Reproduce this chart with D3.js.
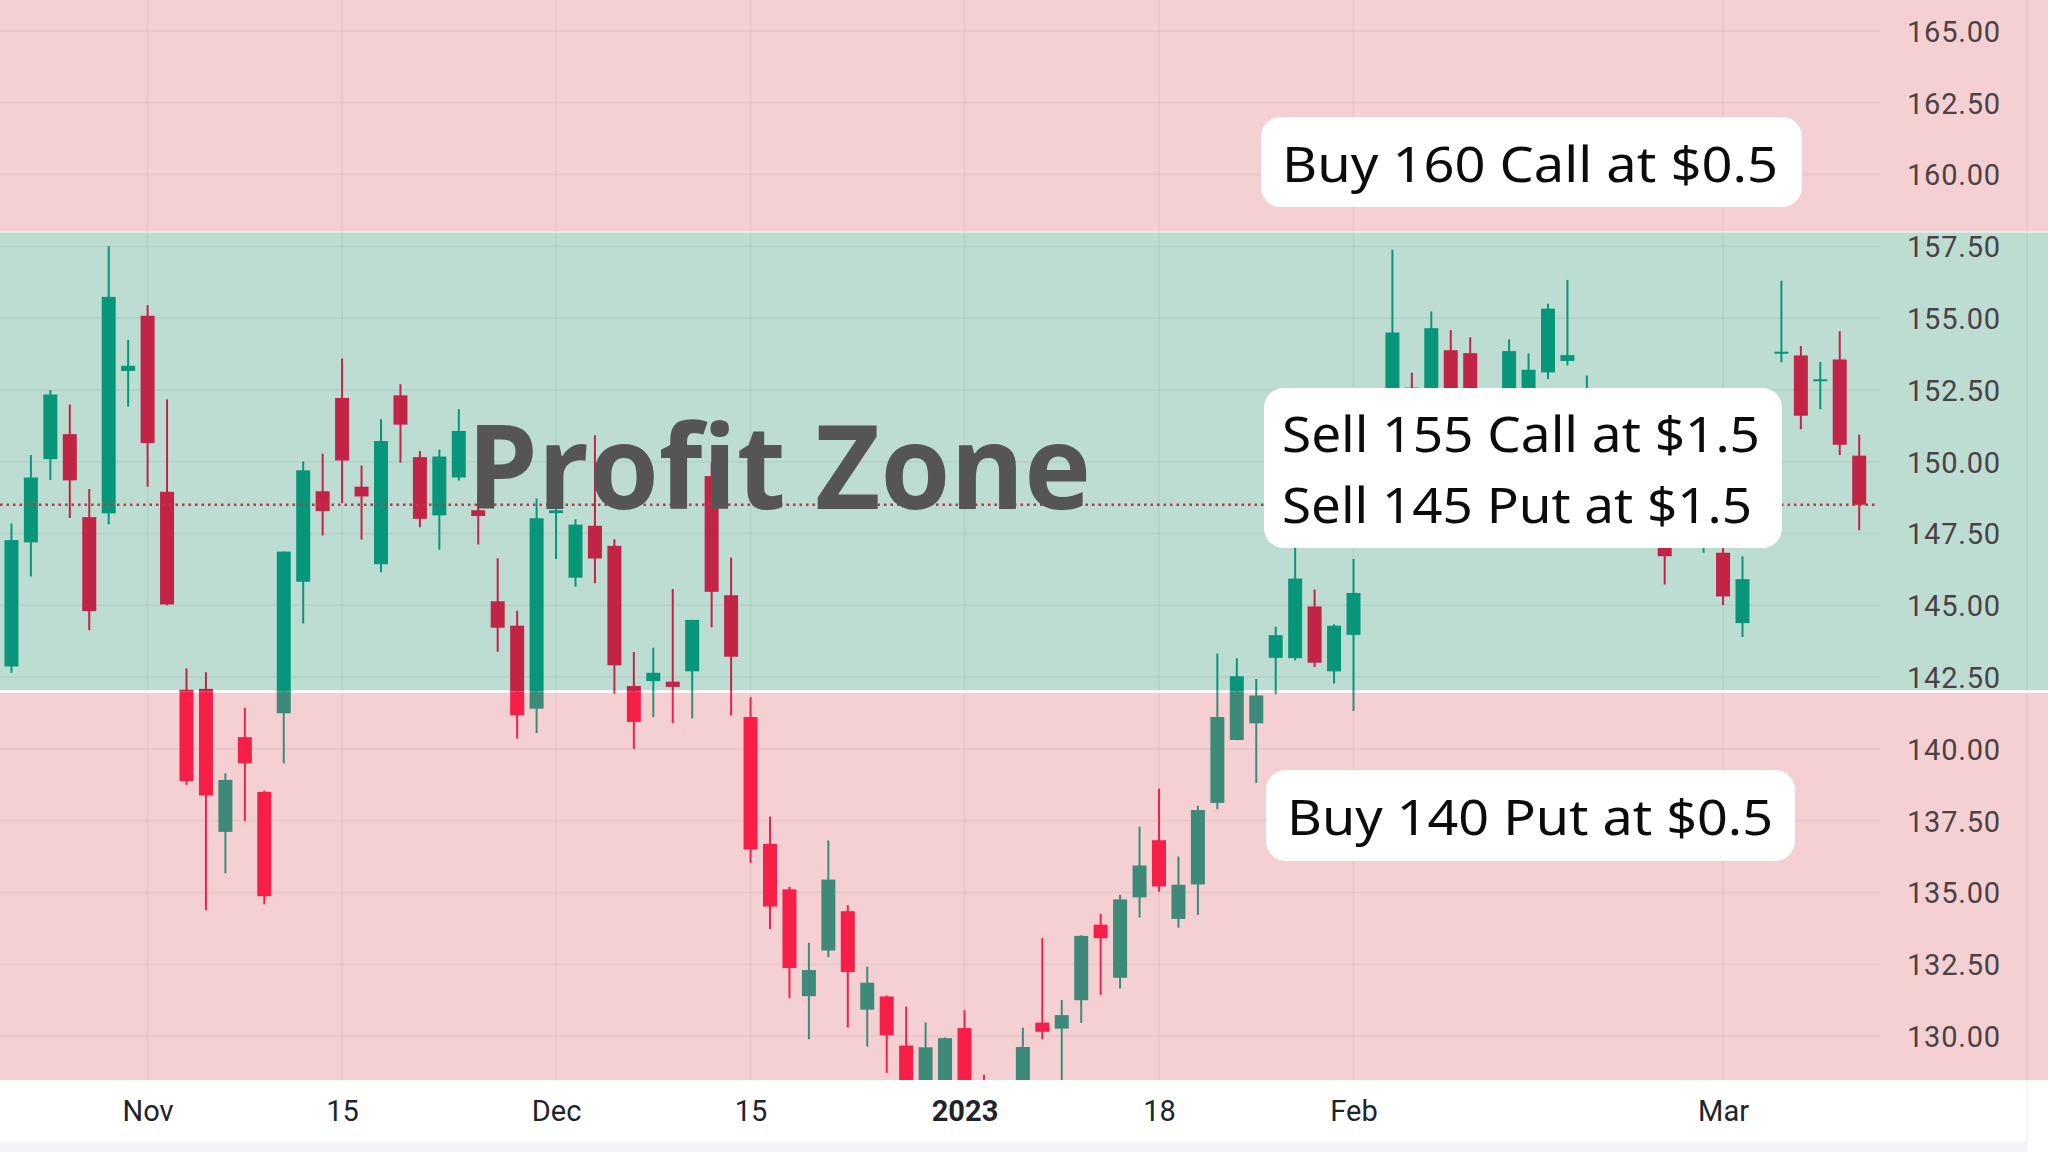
<!DOCTYPE html>
<html><head><meta charset="utf-8">
<script src="https://cdn.jsdelivr.net/npm/d3@7"></script>
<style>html,body{margin:0;padding:0;background:#fff;overflow:hidden}</style>
</head><body>
<svg id="chart" width="2048" height="1152"></svg>
<script>
// ---------------- DATA ----------------
const dates = ["2022-10-20","2022-10-21","2022-10-24","2022-10-25","2022-10-26","2022-10-27","2022-10-28","2022-10-31",
"2022-11-01","2022-11-02","2022-11-03","2022-11-04","2022-11-07","2022-11-08","2022-11-09","2022-11-10","2022-11-11","2022-11-14","2022-11-15","2022-11-16","2022-11-17","2022-11-18","2022-11-21","2022-11-22","2022-11-23","2022-11-25","2022-11-28","2022-11-29","2022-11-30",
"2022-12-01","2022-12-02","2022-12-05","2022-12-06","2022-12-07","2022-12-08","2022-12-09","2022-12-12","2022-12-13","2022-12-14","2022-12-15","2022-12-16","2022-12-19","2022-12-20","2022-12-21","2022-12-22","2022-12-23","2022-12-27","2022-12-28","2022-12-29","2022-12-30",
"2023-01-03","2023-01-04","2023-01-05","2023-01-06","2023-01-09","2023-01-10","2023-01-11","2023-01-12","2023-01-13","2023-01-17","2023-01-18","2023-01-19","2023-01-20","2023-01-23","2023-01-24","2023-01-25","2023-01-26","2023-01-27","2023-01-30","2023-01-31",
"2023-02-01","2023-02-02","2023-02-03","2023-02-06","2023-02-07","2023-02-08","2023-02-09","2023-02-10","2023-02-13","2023-02-14","2023-02-15","2023-02-16","2023-02-17","2023-02-21","2023-02-22","2023-02-23","2023-02-24","2023-02-27","2023-02-28",
"2023-03-01","2023-03-02","2023-03-03","2023-03-06","2023-03-07","2023-03-08","2023-03-09","2023-03-10"];

const open = [143.02,142.87,147.19,150.09,150.96,148.07,148.20,153.16,
155.08,148.95,142.06,142.09,137.11,140.41,138.50,141.24,145.82,148.97,152.22,149.13,146.43,152.31,150.16,148.13,149.45,148.31,145.14,144.29,141.40,
148.21,145.96,147.77,147.07,142.19,142.36,142.34,142.70,149.50,145.35,141.11,136.69,135.11,131.39,132.98,134.35,130.92,131.38,129.67,127.99,128.41,
130.28,126.89,127.13,126.01,130.47,130.26,131.25,133.88,132.03,134.83,136.82,134.08,135.28,138.12,140.31,140.89,143.17,143.16,144.96,142.70,
143.97,148.90,148.03,152.58,150.64,153.88,153.78,149.46,150.95,152.12,153.11,153.51,152.35,150.20,148.87,150.09,147.11,147.71,147.05,
146.83,144.38,148.05,153.79,153.70,152.81,153.56,150.21];

const high = [145.89,147.85,150.23,152.49,151.99,149.05,157.50,154.24,
155.45,152.17,142.80,142.67,139.15,141.43,138.55,146.87,150.01,150.28,153.59,149.87,151.48,152.70,150.37,150.42,151.83,148.88,146.64,144.81,148.72,
149.13,148.00,150.92,147.30,143.37,143.52,145.57,144.50,149.97,146.66,141.80,137.65,135.20,133.25,136.81,134.56,132.42,131.41,131.03,130.48,129.95,
130.90,128.66,127.77,130.29,133.41,131.26,133.51,134.26,134.92,137.29,138.61,136.25,138.02,143.32,143.16,142.43,144.25,147.23,145.55,144.34,
146.61,151.18,157.38,153.10,155.23,154.58,154.33,151.34,154.26,153.77,155.50,156.33,153.00,151.30,149.95,150.34,147.19,149.17,149.08,
147.23,146.71,151.11,156.30,154.03,153.47,154.54,150.94];

const low = [142.65,142.65,146.00,149.36,148.04,144.13,147.82,151.92,
149.13,145.00,138.75,134.38,135.67,137.49,134.59,139.50,144.37,147.43,148.56,147.29,146.15,149.97,147.72,146.93,149.34,147.12,143.38,140.36,140.55,
146.61,145.65,145.77,141.92,140.00,141.10,140.90,141.06,144.24,141.16,136.03,133.73,131.32,129.89,132.75,130.30,129.64,128.72,125.87,127.73,127.43,
124.17,125.08,124.76,124.89,129.89,128.12,130.46,131.44,131.66,134.13,135.03,133.77,134.22,137.90,140.30,138.81,141.90,143.08,142.85,142.28,
141.32,148.17,147.83,150.78,150.64,151.17,150.42,149.22,150.92,150.86,152.88,153.35,150.85,148.41,147.16,147.24,145.72,147.45,146.83,
145.01,143.90,147.33,153.46,151.13,151.83,150.23,147.61];

const close = [143.39,147.27,149.45,152.34,149.35,144.80,155.74,153.34,
150.65,145.03,138.88,138.38,138.92,139.50,134.87,146.87,149.70,148.28,150.04,148.79,150.72,151.29,148.01,150.18,151.07,148.11,144.22,141.17,148.03,
148.31,147.81,146.63,142.91,140.94,142.65,142.16,144.49,145.47,143.21,136.50,134.51,132.37,132.30,135.45,132.23,131.86,130.03,126.04,129.61,129.93,
125.07,126.36,125.02,129.62,130.15,130.73,133.49,133.41,134.76,135.94,135.21,135.27,137.87,141.11,142.53,141.86,143.96,145.93,143.00,144.29,
145.43,150.82,154.50,151.73,154.65,151.92,150.87,151.01,153.85,153.20,155.33,153.71,152.55,148.48,148.91,149.40,146.71,147.92,147.41,
145.31,145.91,151.03,153.83,151.60,152.87,150.59,148.50];

const priceTicks = [130,132.5,135,137.5,140,142.5,145,147.5,150,152.5,155,157.5,160,162.5,165];
const timeTickDates = ["2022-11-01","2022-11-15","2022-12-01","2022-12-15","2023-01-03","2023-01-18","2023-02-01","2023-03-01"];
const timeTickLabels = ["Nov","15","Dec","15","2023","18","Feb","Mar"];
const profitZone = [142, 158];
const lastPrice = 148.5;
const title = "Profit Zone";
const callBuy = ["Buy 160 Call at $0.5"];
const shortLegs = ["Sell 155 Call at $1.5", "Sell 145 Put at $1.5"];
const putBuy = ["Buy 140 Put at $0.5"];

// ---------------- LAYOUT ----------------
const W = 2048, H = 1152;
const plotRight = 1880, plotBottom = 1080, sepX = 2027, footerY = 1142;
const svg = d3.select("#chart");

const x = d3.scalePoint().domain(dates).range([-8, 1859.2]);
const y = d3.scaleLinear().domain([130, 165]).range([1036.1, 30.9]);
const bodyW = 14;

const pink = "#F5D0D3", green = "#BDDDD2";
const yTop = y(profitZone[1]), yBot = y(profitZone[0]);

// backgrounds
svg.append("rect").attr("x",0).attr("y",0).attr("width",W).attr("height",H).attr("fill","#fff");
svg.append("rect").attr("x",0).attr("y",0).attr("width",W).attr("height",plotBottom).attr("fill",pink);
svg.append("rect").attr("x",0).attr("y",yTop).attr("width",W).attr("height",yBot-yTop).attr("fill",green);
svg.append("rect").attr("x",0).attr("y",footerY).attr("width",sepX).attr("height",H-footerY).attr("fill","#F1F3F7");

// grid
const grid = svg.append("g").attr("stroke","rgba(0,0,0,0.04)").attr("stroke-width",2);
grid.selectAll("line.h").data(priceTicks).join("line").attr("class","h")
  .attr("x1",0).attr("x2",plotRight).attr("y1",d=>y(d)).attr("y2",d=>y(d));
grid.selectAll("line.v").data(timeTickDates).join("line").attr("class","v")
  .attr("x1",d=>x(d)).attr("x2",d=>x(d)).attr("y1",0).attr("y2",plotBottom);
svg.append("line").attr("x1",sepX).attr("x2",sepX).attr("y1",0).attr("y2",footerY)
  .attr("stroke","rgba(0,0,0,0.045)").attr("stroke-width",2);

// zone edges
svg.append("line").attr("x1",0).attr("x2",W).attr("y1",yBot).attr("y2",yBot).attr("stroke","#fff").attr("stroke-width",2.5);
svg.append("line").attr("x1",0).attr("x2",W).attr("y1",yTop).attr("y2",yTop).attr("stroke","rgba(255,255,255,0.6)").attr("stroke-width",1.5);

// clips
const defs = svg.append("defs");
defs.append("clipPath").attr("id","clipIn").append("rect")
  .attr("x",0).attr("y",yTop).attr("width",plotRight).attr("height",yBot-yTop);
const co = defs.append("clipPath").attr("id","clipOut");
co.append("rect").attr("x",0).attr("y",0).attr("width",plotRight).attr("height",yTop);
co.append("rect").attr("x",0).attr("y",yBot).attr("width",plotRight).attr("height",plotBottom-yBot);

const idx = d3.range(dates.length);
function drawCandles(clipId, upCol, downCol){
  const g = svg.append("g").attr("clip-path",`url(#${clipId})`);
  const col = i => close[i] >= open[i] ? upCol : downCol;
  g.selectAll("line").data(idx).join("line")
    .attr("x1",i=>x(dates[i])).attr("x2",i=>x(dates[i]))
    .attr("y1",i=>y(high[i])).attr("y2",i=>y(low[i]))
    .attr("stroke",col).attr("stroke-width",2);
  g.selectAll("rect").data(idx).join("rect")
    .attr("x",i=>x(dates[i])-bodyW/2).attr("width",bodyW)
    .attr("y",i=>y(Math.max(open[i],close[i])))
    .attr("height",i=>Math.max(2, Math.abs(y(open[i])-y(close[i]))))
    .attr("fill",col);
}
drawCandles("clipIn", "#07967A", "#C12444");
drawCandles("clipOut", "#3D8A78", "#F71E48");

// last price dotted line
svg.append("line").attr("x1",0).attr("x2",plotRight-3).attr("y1",y(lastPrice)).attr("y2",y(lastPrice))
  .attr("stroke","#C8304F").attr("stroke-width",2.5).attr("stroke-dasharray","2.5 4");

// price axis
const ya = svg.append("g").attr("transform",`translate(1907,0)`)
  .call(d3.axisRight(y).tickValues(priceTicks).tickFormat(d3.format(".2f")).tickSize(0).tickPadding(0));
ya.select(".domain").remove();
ya.selectAll("text").attr("font-family","Roboto, sans-serif").attr("font-size",29)
  .attr("fill","#4b4246").attr("letter-spacing","0.8px").attr("dy","0.36em");

// time axis
const xa = svg.append("g").attr("transform",`translate(0,1111)`)
  .call(d3.axisBottom(x).tickValues(timeTickDates).tickFormat((d,i)=>timeTickLabels[i]).tickSize(0).tickPadding(0));
xa.select(".domain").remove();
xa.selectAll("text").attr("font-family","Roboto, sans-serif").attr("font-size",29)
  .attr("fill","#1f232e").attr("dy","0.36em")
  .attr("font-weight",(d,i)=>timeTickLabels[i]==="2023"?700:400);

// title
svg.append("text").attr("x",467).attr("y",509.3).text(title)
  .attr("font-family","'Open Sans', sans-serif").attr("font-weight",700).attr("font-size",116)
  .attr("fill","#555555").attr("textLength",624).attr("lengthAdjust","spacingAndGlyphs");

// annotation boxes
function box(x0, y0, w, h, lines, tx, baselines, lens){
  svg.append("rect").attr("x",x0).attr("y",y0).attr("width",w).attr("height",h).attr("rx",20).attr("fill","#fff");
  lines.forEach((t,k)=>{
    svg.append("text").attr("x",tx).attr("y",baselines[k]).text(t)
      .attr("font-family","'Noto Sans', sans-serif").attr("font-size",50).attr("fill","#0c0c0c")
      .attr("textLength",lens[k]).attr("lengthAdjust","spacingAndGlyphs");
  });
}
box(1261, 117, 541, 90, callBuy, 1282, [181.7], [496]);
box(1264, 388, 518, 160, shortLegs, 1282, [451.7, 523.3], [478, 470]);
box(1266, 770, 529, 91, putBuy, 1287, [835], [486]);
</script>
</body></html>
